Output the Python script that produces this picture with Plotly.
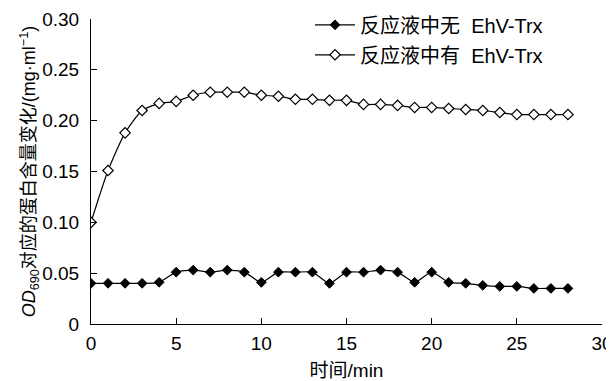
import plotly.graph_objects as go

time_min = list(range(0, 29))
without_trx = [0.040, 0.040, 0.040, 0.040, 0.041, 0.051, 0.053, 0.051, 0.053, 0.051,
               0.041, 0.051, 0.051, 0.051, 0.040, 0.051, 0.051, 0.053, 0.051, 0.041,
               0.051, 0.041, 0.040, 0.038, 0.037, 0.037, 0.035, 0.035, 0.035]
with_trx = [0.100, 0.151, 0.188, 0.210, 0.217, 0.219, 0.225, 0.228, 0.228, 0.228,
            0.225, 0.224, 0.221, 0.221, 0.220, 0.220, 0.216, 0.216, 0.215, 0.213,
            0.213, 0.212, 0.211, 0.210, 0.208, 0.206, 0.206, 0.206, 0.206]
names = ["反应液中无  EhV-Trx", "反应液中有  EhV-Trx"]
x_ticks = [0, 5, 10, 15, 20, 25, 30]
y_ticks = [0, 0.05, 0.10, 0.15, 0.20, 0.25, 0.30]
y_tick_text = ["0", "0.05", "0.10", "0.15", "0.20", "0.25", "0.30"]

FONT = "Liberation Sans, Arial, Noto Sans CJK SC"
FS = 19

fig = go.Figure()
fig.add_trace(go.Scatter(
    x=time_min, y=without_trx, name=names[0], mode="lines+markers", legendgroup="a",
    line=dict(color="black", width=1.2, shape="spline", smoothing=0.6),
    marker=dict(symbol="diamond", size=7.5, color="black", line=dict(color="black", width=1)),
))
fig.add_trace(go.Scatter(
    x=time_min, y=with_trx, name=names[1], mode="lines+markers", legendgroup="b",
    line=dict(color="black", width=1.2, shape="spline", smoothing=0.6),
    marker=dict(symbol="diamond", size=8, color="white", line=dict(color="black", width=1.2)),
))

fig.update_layout(
    width=606, height=373,
    margin=dict(l=83, r=12, t=11, b=57, autoexpand=False),
    paper_bgcolor="white", plot_bgcolor="white",
    font=dict(family=FONT, size=FS, color="black"),
    showlegend=True,
    legend=dict(x=0.4286, y=1.045, xanchor="left", yanchor="top",
                bgcolor="rgba(0,0,0,0)", font=dict(size=20, family=FONT),
                traceorder="grouped", tracegroupgap=1, itemwidth=40),
)
fig.update_xaxes(
    range=[0, 30], tickvals=x_ticks, ticks="inside", ticklen=6, tickcolor="black",
    showline=True, linecolor="black", linewidth=1, showgrid=False, zeroline=False,
    automargin=False, ticklabelstandoff=2,
    title=dict(text="时间/min", font=dict(size=FS, family=FONT), standoff=13),
    tickfont=dict(size=FS, family=FONT),
)
fig.update_yaxes(
    range=[0, 0.30], tickvals=y_ticks, ticktext=y_tick_text, ticks="inside", ticklen=6,
    tickcolor="black", showline=True, linecolor="black", linewidth=1, showgrid=False,
    zeroline=False, ticklabelstandoff=7, automargin=False,
    title=dict(text="<i>OD</i><sub>690</sub>对应的蛋白含量变化/(mg·ml<sup>−1</sup>)",
               font=dict(size=18, family=FONT), standoff=1),
    tickfont=dict(size=FS, family=FONT),
)
fig.write_html("out.html")
